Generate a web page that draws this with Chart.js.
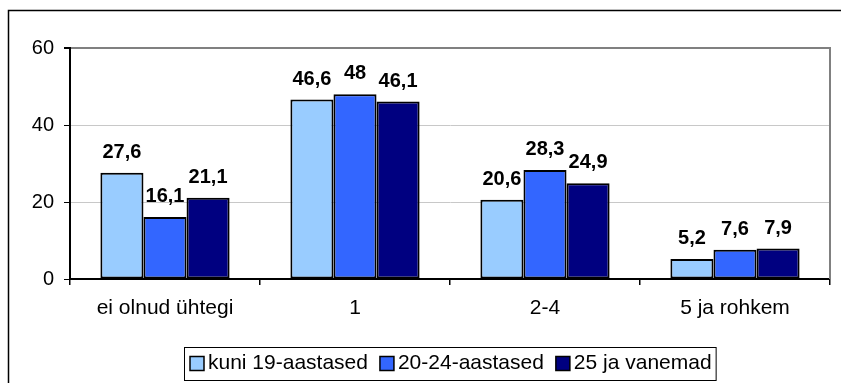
<!DOCTYPE html>
<html>
<head>
<meta charset="utf-8">
<script src="https://cdn.jsdelivr.net/npm/chart.js@4"></script>
<style>
  html, body { margin: 0; padding: 0; background: #fff; }
  #wrap { width: 841px; height: 383px; }
</style>
</head>
<body>
<div id="wrap"><canvas id="ageChart" width="841" height="383"></canvas></div>
<script>
// categories and series
const categories = ['ei olnud ühtegi', '1', '2-4', '5 ja rohkem'];
const seriesNames = ['kuni 19-aastased', '20-24-aastased', '25 ja vanemad'];
const upTo19 = [27.6, 46.6, 20.6, 5.2];
const age20to24 = [16.1, 48, 28.3, 7.6];
const age25plus = [21.1, 46.1, 24.9, 7.9];
const yTicks = [0, 20, 40, 60];

const colors = ['#99CCFF', '#3366FF', '#000080'];
const FONT = '"Liberation Sans", Arial, sans-serif';

// outer frame + plot border on the right
const framePlugin = {
  id: 'frame',
  beforeDraw(chart) {
    const ctx = chart.ctx;
    ctx.save();
    ctx.strokeStyle = '#000';
    ctx.lineWidth = 1.5;
    ctx.strokeRect(8.5, 10.5, 900, 500);
    ctx.restore();
  },
  afterDatasetsDraw(chart) {
    const ctx = chart.ctx;
    const a = chart.chartArea;
    ctx.save();
    ctx.strokeStyle = '#808080';
    ctx.lineWidth = 2;
    ctx.beginPath();
    ctx.moveTo(a.right, a.top - 1);
    ctx.lineTo(a.right, a.bottom);
    ctx.stroke();
    ctx.restore();
  }
};

// value labels above the bars (comma decimals)
const valueLabels = {
  id: 'valueLabels',
  afterDatasetsDraw(chart) {
    const ctx = chart.ctx;
    ctx.save();
    ctx.font = 'bold 20px ' + FONT;
    ctx.fillStyle = '#000';
    ctx.textAlign = 'center';
    ctx.textBaseline = 'alphabetic';
    chart.data.datasets.forEach((ds, i) => {
      chart.getDatasetMeta(i).data.forEach((bar, j) => {
        const txt = String(ds.data[j]).replace('.', ',');
        ctx.fillText(txt, bar.x, bar.y - 15);
      });
    });
    ctx.restore();
  }
};

// boxed legend under the chart
const boxLegend = {
  id: 'boxLegend',
  afterDraw(chart) {
    const ctx = chart.ctx;
    const a = chart.chartArea;
    ctx.save();
    ctx.font = '21px ' + FONT;
    const sw = 14, gap = 4, itemGap = 12, padL = 6, padR = 4;
    const widths = chart.data.datasets.map(ds => ctx.measureText(ds.label).width);
    let total = padL + padR;
    widths.forEach((w, i) => { total += sw + gap + w + (i ? itemGap : 0); });
    const left = Math.round((a.left + a.right) / 2 - total / 2);
    const top = 347, h = 33;
    ctx.strokeStyle = '#000';
    ctx.lineWidth = 1;
    ctx.strokeRect(left + 0.5, top + 0.5, total, h);
    let x = left + padL;
    const cy = top + h / 2;
    chart.data.datasets.forEach((ds, i) => {
      if (i) x += itemGap;
      ctx.fillStyle = ds.backgroundColor;
      ctx.fillRect(x, cy - sw / 2, sw, sw);
      ctx.lineWidth = 1.5;
      ctx.strokeRect(x, cy - sw / 2, sw, sw);
      x += sw + gap;
      ctx.fillStyle = '#000';
      ctx.textBaseline = 'middle';
      ctx.fillText(ds.label, x, cy);
      x += widths[i];
    });
    ctx.restore();
  }
};

const ctxAge = document.getElementById('ageChart').getContext('2d');
new Chart(ctxAge, {
  type: 'bar',
  data: {
    labels: categories,
    datasets: [upTo19, age20to24, age25plus].map((vals, i) => ({
      label: seriesNames[i],
      data: vals,
      backgroundColor: colors[i],
      borderColor: '#000',
      borderWidth: 2,
      borderSkipped: false,
      categoryPercentage: 0.68,
      barPercentage: 1
    }))
  },
  options: {
    responsive: false,
    animation: false,
    layout: { padding: { top: 48, right: 11, left: 0, bottom: 0 } },
    plugins: {
      legend: { display: false },
      tooltip: { enabled: false }
    },
    scales: {
      x: {
        grid: {
          offset: true,
          drawOnChartArea: false,
          drawTicks: true,
          tickLength: 6,
          color: '#000',
          lineWidth: 1.5
        },
        border: { color: '#000', width: 2 },
        ticks: { color: '#000', font: { family: FONT, size: 21 }, padding: 11 },
        afterFit(scale) { scale.height = 104; }
      },
      y: {
        min: 0,
        max: 60,
        afterBuildTicks(scale) { scale.ticks = yTicks.map(v => ({ value: v })); },
        grid: {
          color: ctx => ctx.tick && ctx.tick.value === 60 ? '#808080' : '#c8c8c8',
          lineWidth: ctx => ctx.tick && ctx.tick.value === 60 ? 2 : 1,
          tickColor: '#000',
          tickLength: 6
        },
        border: { color: '#000', width: 2 },
        ticks: { color: '#000', font: { family: FONT, size: 20 }, padding: 10 },
        afterFit(scale) { scale.width = 70; }
      }
    }
  },
  plugins: [framePlugin, valueLabels, boxLegend]
});
</script>
</body>
</html>
